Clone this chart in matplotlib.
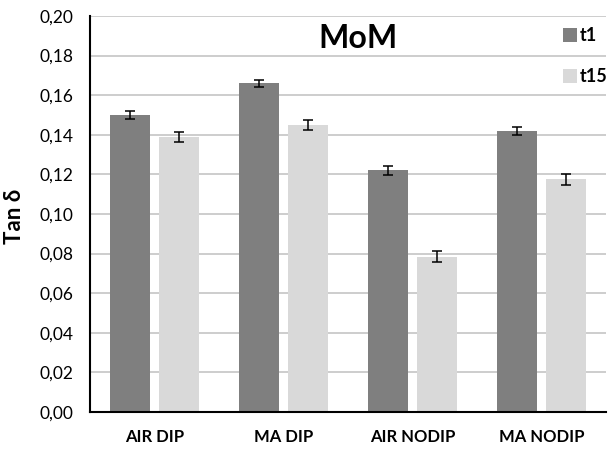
import matplotlib
matplotlib.use("Agg")
import matplotlib.pyplot as plt
import numpy as np

categories = ["AIR DIP", "MA DIP", "AIR NODIP", "MA NODIP"]
series_names = ["t1", "t15"]
t1_values = [0.150, 0.166, 0.122, 0.142]
t15_values = [0.139, 0.145, 0.0785, 0.1175]
t1_err = [0.0020, 0.0018, 0.0022, 0.0019]
t15_err = [0.0026, 0.0026, 0.0026, 0.0027]
y_ticks = [0.00, 0.02, 0.04, 0.06, 0.08, 0.10, 0.12, 0.14, 0.16, 0.18, 0.20]
title_text = "MoM"
y_label = "Tan δ"

plt.rcParams['font.family'] = ['Lato', 'DejaVu Sans']

W, H = 611, 451
fig = plt.figure(figsize=(W / 100, H / 100), dpi=100)
ax = fig.add_axes([90 / W, (H - 412) / H, (606 - 90) / W, (412 - 16) / H])

x = np.arange(len(categories))
bw = 0.306
off = 0.19
dark = "#7f7f7f"
light = "#d9d9d9"

ekw = dict(ecolor="black", elinewidth=1.1, capsize=3.3, capthick=1.1)
ax.bar(x - off, t1_values, bw, color=dark, yerr=t1_err, error_kw=ekw,
       label=series_names[0], zorder=3)
ax.bar(x + off, t15_values, bw, color=light, yerr=t15_err, error_kw=ekw,
       label=series_names[1], zorder=3)

ax.set_xlim(-0.5, len(categories) - 0.5)
ax.set_ylim(0, 0.20)
ax.set_yticks(y_ticks)
ax.set_yticklabels([f"{v:.2f}".replace(".", ",") for v in y_ticks], fontsize=12.5)
ax.set_xticks(x)
ax.set_xticklabels(categories, fontsize=12, fontweight="bold")
ax.tick_params(axis="both", length=0, colors="black")
ax.tick_params(axis="y", pad=12)
ax.tick_params(axis="x", pad=12)

ax.yaxis.grid(True, color="#c0c0c0", linewidth=1.1, zorder=0)
ax.set_axisbelow(True)
for s in ["top", "right"]:
    ax.spines[s].set_visible(False)
ax.spines["left"].set_linewidth(1.5)
ax.spines["bottom"].set_linewidth(1.5)
ax.spines["left"].set_zorder(4)
ax.spines["bottom"].set_zorder(4)

fig.text(15 / W, 1 - 216 / H, y_label, rotation=90, ha="center", va="center",
         fontsize=16, fontweight="bold")

fig.text(358 / W, 1 - 38 / H, title_text, ha="center", va="center",
         fontsize=23, fontweight="bold")

leg = ax.legend(loc="upper left", bbox_to_anchor=(563 / W, 1 - 27 / H),
                bbox_transform=fig.transFigure, frameon=False,
                handlelength=0.8, handleheight=0.8, handletextpad=0.15,
                labelspacing=1.35, borderpad=0, borderaxespad=0,
                prop={"weight": "bold", "size": 13})

fig.savefig("out.png", dpi=100, facecolor="white")
